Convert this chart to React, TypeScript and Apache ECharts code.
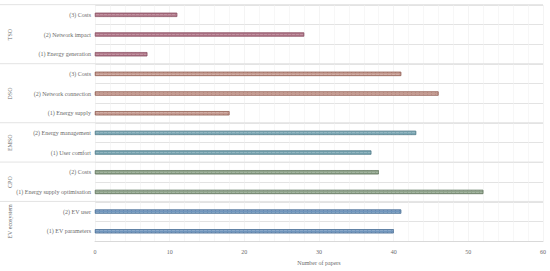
import React, { useEffect, useRef } from "react";
import * as echarts from "echarts";

const groups = ["TSO", "DSO", "EMSO", "CPO", "EV ecosystem"];
const groupColors = ["#b27a8b", "#c59b91", "#7ba6b3", "#8fa38b", "#7196bd"];
const tsoLabels = ["(3) Costs", "(2) Network impact", "(1) Energy generation"];
const tsoValues = [11, 28, 7];
const dsoLabels = ["(3) Costs", "(2) Network connection", "(1) Energy supply"];
const dsoValues = [41, 46, 18];
const emsoLabels = ["(2) Energy management", "(1) User comfort"];
const emsoValues = [43, 37];
const cpoLabels = ["(2) Costs", "(1) Energy supply optimisation"];
const cpoValues = [38, 52];
const evLabels = ["(2) EV user", "(1) EV parameters"];
const evValues = [41, 40];
const xTicks = [0, 10, 20, 30, 40, 50, 60];

const groupLabels = [tsoLabels, dsoLabels, emsoLabels, cpoLabels, evLabels];
const groupValues = [tsoValues, dsoValues, emsoValues, cpoValues, evValues];

const FONT = "Liberation Serif";
const TEXT = "#6b6b6b";

export default function App() {
  const ref = useRef<HTMLDivElement>(null);
  useEffect(() => {
    const chart = echarts.init(ref.current!, null, { renderer: "svg" });
    const cats: string[] = [];
    const data: any[] = [];
    groups.forEach((g, gi) => {
      groupLabels[gi].forEach((l, i) => {
        cats.push(g + "|" + l);
        data.push({
          value: groupValues[gi][i],
          itemStyle: {
            color: groupColors[gi],
            borderColor: echarts.color.modifyHSL(groupColors[gi], undefined, undefined, 0.42),
            borderWidth: 0.5,
            decal: {
              symbol: "rect",
              dashArrayX: [3, 1],
              dashArrayY: [1, 1],
              color: "rgba(255,255,255,0.18)",
              rotation: 0,
            },
          },
        });
      });
    });
    const gridTop = 5;
    const gridBottom = 22;
    const gridLeft = 95;
    const gridRight = 7;
    chart.setOption({
      animation: false,
      grid: { left: gridLeft, right: gridRight, top: gridTop, bottom: gridBottom, containLabel: false },
      xAxis: {
        type: "value",
        min: xTicks[0],
        max: xTicks[xTicks.length - 1],
        interval: 10,
        name: "Number of papers",
        nameLocation: "middle",
        nameGap: 16,
        nameTextStyle: { fontFamily: FONT, fontSize: 6, color: TEXT },
        axisLine: { show: true, lineStyle: { color: "#d9d9d9", width: 1 } },
        axisTick: { show: false },
        axisLabel: { fontFamily: FONT, fontSize: 6, color: TEXT, margin: 8 },
        splitLine: { show: true, lineStyle: { color: "#ececec", width: 0.6 } },
        minorTick: { show: false, splitNumber: 5 },
        minorSplitLine: { show: true, lineStyle: { color: "#f1f1f1", width: 0.6 } },
      },
      yAxis: {
        type: "category",
        data: cats,
        inverse: true,
        axisLine: { show: false },
        axisTick: { show: false },
        axisLabel: {
          fontFamily: FONT,
          fontSize: 6,
          color: TEXT,
          margin: 4,
          formatter: (v: string) => v.split("|")[1],
        },
        splitLine: { show: true, lineStyle: { color: "#e3e3e3", width: 1 } },
      },
      series: [
        {
          type: "bar",
          data,
          barWidth: 4,
        },
      ],
    });

    const band = (271 - gridTop - gridBottom) / cats.length;
    const graphics: any[] = [];
    let idx = 0;
    const right = 550 - gridRight;
    groups.forEach((g, gi) => {
      const n = groupLabels[gi].length;
      const c0 = chart.convertToPixel({ yAxisIndex: 0 }, cats[idx]) as number;
      const cN = chart.convertToPixel({ yAxisIndex: 0 }, cats[idx + n - 1]) as number;
      const top = c0 - band / 2;
      const bottom = cN + band / 2;
      graphics.push({
        type: "line",
        shape: { x1: 0, y1: top, x2: right, y2: top },
        style: { stroke: "#e3e3e3", lineWidth: 1 },
        silent: true,
      });
      graphics.push({
        type: "text",
        x: 10,
        y: (top + bottom) / 2,
        rotation: Math.PI / 2,
        style: {
          text: g,
          fontFamily: FONT,
          fontSize: 6,
          fill: TEXT,
          align: "center",
          verticalAlign: "middle",
        },
        silent: true,
      });
      idx += n;
    });
    chart.setOption({ graphic: graphics });
    return () => chart.dispose();
  }, []);
  return (
    <div
      ref={ref}
      style={{ position: "fixed", left: 0, top: 0, width: 550, height: 271, background: "#fff" }}
    />
  );
}
